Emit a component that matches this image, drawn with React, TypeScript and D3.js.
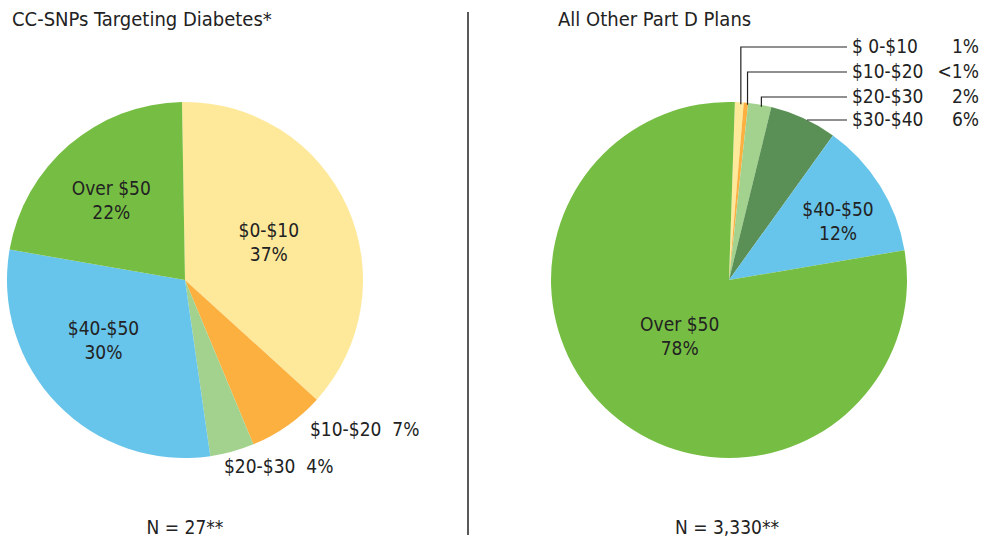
import React from 'react';
import { pie, arc, scaleOrdinal } from 'd3';

const W = 983;
const H = 539;
const FONT = "'Liberation Sans Narrow', 'DejaVu Sans Condensed', Roboto, sans-serif";

// left chart
const leftCats = ['$0-$10', '$10-$20', '$20-$30', '$40-$50', 'Over $50'];
const leftValues = [37, 7, 4, 30, 22];
const leftLabels = ['37%', '7%', '4%', '30%', '22%'];

// right chart
const rightCats = ['$ 0-$10', '$10-$20', '$20-$30', '$30-$40', '$40-$50', 'Over $50'];
const rightValues = [0.8, 0.4, 2.1, 6.1, 12.4, 78.2];
const rightLabels = ['1%', '<1%', '2%', '6%', '12%', '78%'];

const color = scaleOrdinal<string, string>()
  .domain(['$0-$10', '$ 0-$10', '$10-$20', '$20-$30', '$30-$40', '$40-$50', 'Over $50'])
  .range(['#FEE99B', '#FEE99B', '#FBB040', '#A2D28D', '#5A8F55', '#67C4EA', '#76BE43']);

const R = 178;

type Slice = { cat: string; value: number; label: string };

// inside labels: radius (px) and angle nudge (deg) per slice
const Pie = ({ cx, cy, data, start, inside, outside }: {
  cx: number; cy: number; data: Slice[]; start: number;
  inside: Record<string, [number, number]>;
  outside: Record<string, [number, number]>;
}) => {
  const arcs = pie<Slice>().sort(null).value(d => d.value)
    .startAngle(start).endAngle(start + Math.PI * 2)(data);
  const path = arc<any>().innerRadius(0).outerRadius(R);
  return (
    <g transform={`translate(${cx},${cy})`}>
      {arcs.map(a => (
        <path key={a.data.cat} d={path(a) || ''} fill={color(a.data.cat)} />
      ))}
      {arcs.filter(a => inside[a.data.cat]).map(a => {
        const [r, nudge] = inside[a.data.cat];
        const ang = (a.startAngle + a.endAngle) / 2 + nudge * Math.PI / 180;
        const x = r * Math.sin(ang);
        const y = -r * Math.cos(ang);
        return (
          <text key={a.data.cat} textAnchor="middle" fontSize={19} fill="#222">
            <tspan x={x} y={y - 5}>{a.data.cat}</tspan>
            <tspan x={x} y={y + 19}>{a.data.label}</tspan>
          </text>
        );
      })}
      {arcs.filter(a => outside[a.data.cat]).map(a => {
        const [x, y] = outside[a.data.cat];
        return (
          <text key={a.data.cat} x={x - cx} y={y - cy} fontSize={19} fill="#222" xmlSpace="preserve">
            {a.data.cat + '  ' + a.data.label}
          </text>
        );
      })}
    </g>
  );
};

export default function App() {
  const leftData = leftCats.map((c, i) => ({ cat: c, value: leftValues[i], label: leftLabels[i] }));
  const rightData = rightCats.map((c, i) => ({ cat: c, value: rightValues[i], label: rightLabels[i] }));

  const rcx = 729, rcy = 280;
  const rStart = 0.033;
  const rArcs = pie<Slice>().sort(null).value(d => d.value)
    .startAngle(rStart).endAngle(rStart + Math.PI * 2)(rightData);
  const rowY = [47, 72, 97, 120];
  const leaders = rArcs.slice(0, 4).map((a, i) => {
    const mid = (a.startAngle + a.endAngle) / 2;
    const px = rcx + R * Math.sin(mid);
    const py = rcy - R * Math.cos(mid);
    return { px, py, y: rowY[i], a };
  });

  return (
    <svg width={W} height={H} style={{ position: 'absolute', left: 0, top: 0, fontFamily: FONT }}>
      <rect width={W} height={H} fill="#fff" />
      <text x={12} y={26} fontSize={20} fill="#222">CC-SNPs Targeting Diabetes*</text>
      <text x={558} y={26} fontSize={20} fill="#222">All Other Part D Plans</text>
      <line x1={468} x2={468} y1={12} y2={535} stroke="#222" strokeWidth={1.5} />

      <Pie cx={185} cy={280} data={leftData} start={-0.017}
        inside={{ '$0-$10': [92, 0], '$40-$50': [101, 8], 'Over $50': [109, -2] }}
        outside={{ '$10-$20': [310, 436], '$20-$30': [224, 473] }} />
      <Pie cx={rcx} cy={rcy} data={rightData} start={rStart}
        inside={{ '$40-$50': [124, 3.5], 'Over $50': [75, 0] }} outside={{}} />

      {leaders.map((l, i) => (
        <path key={i} fill="none" stroke="#222" strokeWidth={1.2}
          d={i < 3
            ? `M${l.px + 1.5},${l.py + 2} L${l.px + 1.5},${l.y} L847,${l.y}`
            : `M${rcx + Math.sqrt(R * R - (l.y - rcy) ** 2)},${l.y} L847,${l.y}`} />
      ))}
      {leaders.map((l, i) => (
        <g key={'t' + i}>
          <text x={852} y={l.y + 6} fontSize={19} fill="#222" xmlSpace="preserve">{l.a.data.cat}</text>
          <text x={979} y={l.y + 6} fontSize={19} fill="#222" textAnchor="end">{l.a.data.label}</text>
        </g>
      ))}

      <text x={185} y={534} fontSize={19} fill="#222" textAnchor="middle">N = 27**</text>
      <text x={727} y={534} fontSize={19} fill="#222" textAnchor="middle">N = 3,330**</text>
    </svg>
  );
}
